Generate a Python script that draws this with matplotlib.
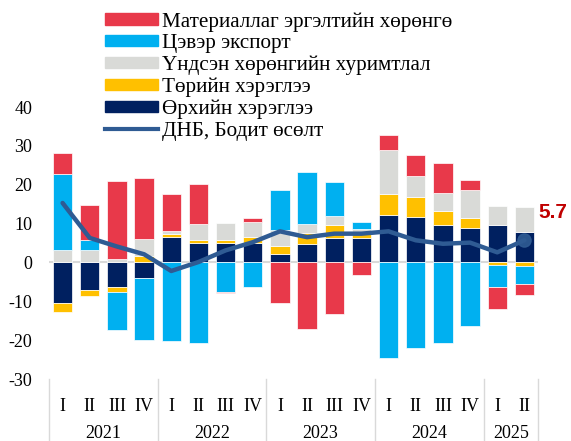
import matplotlib
matplotlib.use("Agg")
import matplotlib.pyplot as plt
import numpy as np
from matplotlib.lines import Line2D
from matplotlib.patches import Patch

plt.rcParams['font.family'] = ['Liberation Serif', 'DejaVu Serif']

quarters = ["I", "II", "III", "IV"] * 4 + ["I", "II"]
years = ["2021", "2022", "2023", "2024", "2025"]
year_counts = [4, 4, 4, 4, 2]

household = [-10.5, -7.1, -6.2, -4.0, 6.5, 5.0, 5.1, 5.1, 2.1, 4.7, 6.4, 6.4, 12.1, 11.7, 9.7, 8.9, 9.6, 7.8]
government = [-2.3, -1.6, -1.4, 1.6, 0.9, 0.9, 0.8, 1.4, 2.0, 2.9, 3.2, 1.2, 5.5, 5.1, 3.5, 2.6, -0.6, -0.8]
fixed_capital = [3.3, 3.3, 0.8, 4.5, 0.6, 4.1, 4.3, 3.9, 4.2, 2.4, 2.3, 1.1, 11.4, 5.5, 4.7, 7.1, 4.9, 6.5]
net_exports = [19.5, 2.4, -9.8, -15.9, -20.2, -20.7, -7.5, -6.4, 10.3, 13.3, 8.8, 1.7, -24.7, -22.1, -20.7, -16.3, -5.8, -4.7]
inventories = [5.3, 9.2, 20.2, 15.5, 9.6, 10.3, -0.3, 1.0, -10.5, -17.1, -13.4, -3.2, 3.7, 5.4, 7.6, 2.6, -5.6, -3.0]
gdp = [15.3, 6.3, 4.1, 2.1, -2.2, 0.1, 3.1, 5.2, 8.0, 6.5, 7.4, 7.4, 8.0, 5.7, 4.8, 5.1, 2.6, 5.7]

labels = ["Материаллаг эргэлтийн хөрөнгө", "Цэвэр экспорт", "Үндсэн хөрөнгийн хуримтлал",
          "Төрийн хэрэглээ", "Өрхийн хэрэглээ", "ДНБ, Бодит өсөлт"]
colors = {"inv": "#E8394A", "nx": "#00B0F0", "fc": "#D9DAD7", "gov": "#FFC000", "hh": "#002060"}
line_color = "#2F5B93"

fig = plt.figure(figsize=(5.71, 4.41), dpi=100)
ax = fig.add_axes([49/571, 1-379/441, (538-49)/571, (379-107)/441])

x = np.arange(len(quarters))
pos = np.zeros(len(x))
neg = np.zeros(len(x))
stack = [(household, colors["hh"]), (government, colors["gov"]), (fixed_capital, colors["fc"]),
         (net_exports, colors["nx"]), (inventories, colors["inv"])]
for vals, c in stack:
    v = np.array(vals)
    bottom = np.where(v >= 0, pos, neg)
    ax.bar(x, v, bottom=bottom, width=0.71, color=c, edgecolor="white", linewidth=0.5, zorder=2)
    pos = pos + np.where(v >= 0, v, 0)
    neg = neg + np.where(v < 0, v, 0)

ax.axhline(0, color="#D9D9D9", lw=1.5, zorder=1)
ax.plot(x, gdp, color=line_color, lw=3.2, zorder=4, solid_capstyle='round')
ax.plot(x[-1], gdp[-1], 'o', color=line_color, ms=9.5, zorder=5, alpha=0.9)
ax.text(x[-1] + 0.5, gdp[-1] + 7.2, f"{gdp[-1]:.1f}", color="#C00000", fontsize=15,
        fontweight="bold", family=["Liberation Sans", "DejaVu Sans"], ha="left", va="center")

ax.set_xlim(-0.5, len(x) - 0.5)
ax.set_ylim(-30, 40)
ax.set_yticks(range(-30, 41, 10))
ax.set_yticklabels([str(v) for v in range(-30, 41, 10)], fontsize=13)
ax.tick_params(axis='y', length=0, pad=12)
ax.set_xticks(x)
ax.set_xticklabels(quarters, fontsize=13)
ax.tick_params(axis='x', length=0, pad=14)
for s in ax.spines.values():
    s.set_visible(False)

trans = ax.get_xaxis_transform()
bounds = [-0.5]
for n in year_counts:
    bounds.append(bounds[-1] + n)
for b in bounds:
    ax.add_line(Line2D([b, b], [0, -0.235], transform=trans, color="#D9D9D9", lw=1, clip_on=False))
for i, yr in enumerate(years):
    cx = (bounds[i] + bounds[i + 1]) / 2
    ax.text(cx, -54/272, yr, transform=trans, ha="center", va="center", fontsize=13)

handles = [Patch(color=colors["inv"]), Patch(color=colors["nx"]), Patch(color=colors["fc"]),
           Patch(color=colors["gov"]), Patch(color=colors["hh"]),
           Line2D([], [], color=line_color, lw=3)]
fig.legend(handles, labels, loc="upper left", bbox_to_anchor=(105/571, 1 - 12/441),
           frameon=False, fontsize=15.2, handlelength=2.5, handleheight=0.45,
           handletextpad=0.2, labelspacing=0.12, borderpad=0, borderaxespad=0)

fig.savefig("out.png", dpi=100)
